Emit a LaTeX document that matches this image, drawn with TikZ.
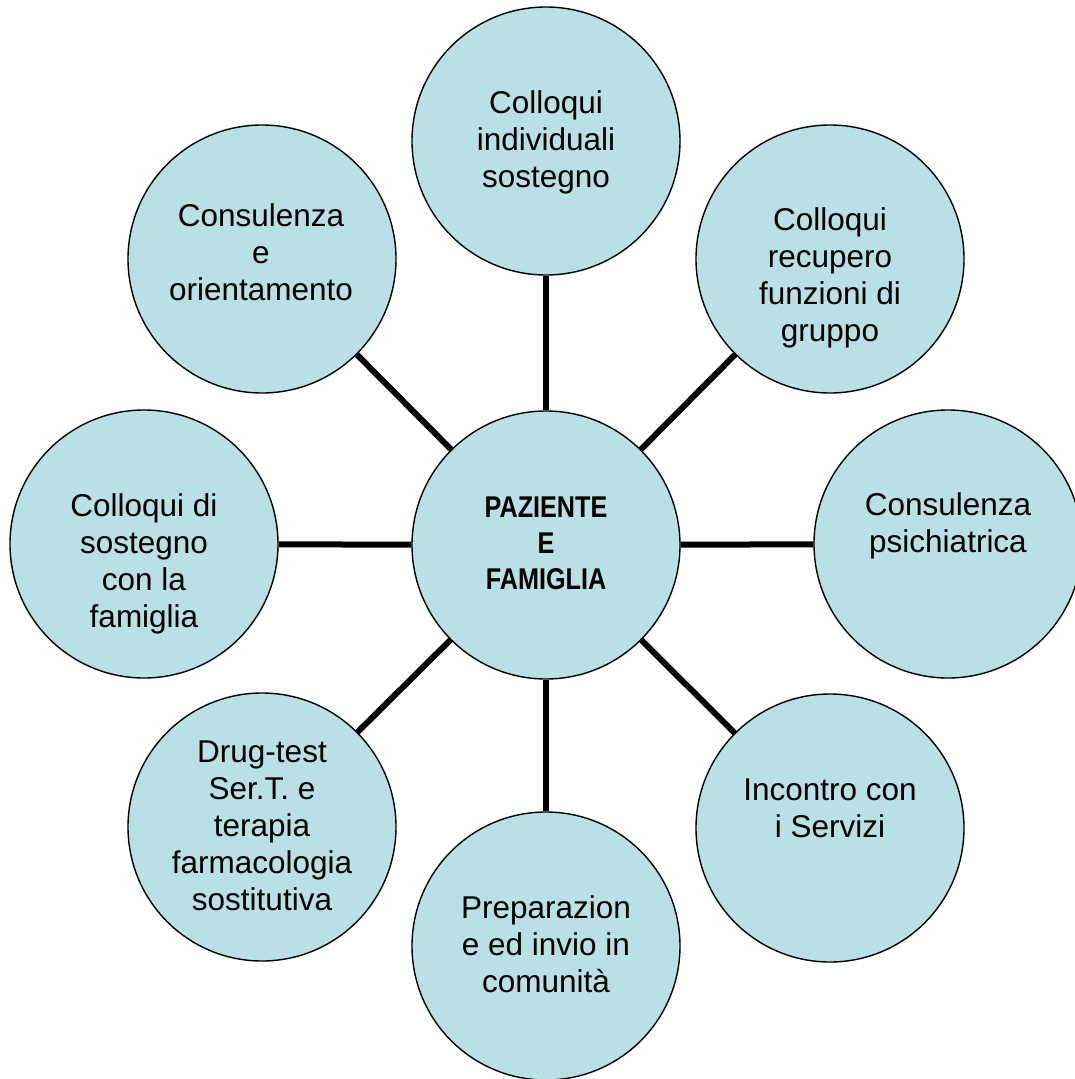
\documentclass[tikz,border=0pt]{standalone}
\usepackage{fontspec}
\setmainfont{Liberation Sans}
\newfontfamily\ctrfont{Liberation Sans}[FakeStretch=0.84]
\definecolor{bubc}{HTML}{B9E0E4}
\begin{document}
\begin{tikzpicture}[x=1pt,y=-1pt,
  bub/.style={circle,draw=black,fill=bubc,line width=1.4pt,minimum size=268pt,inner sep=0pt},
  lbl/.style={anchor=base,align=center,font=\fontsize{31.5}{37}\selectfont,inner sep=0pt},
  ctr/.style={anchor=base,align=center,font=\ctrfont\bfseries\fontsize{30}{36}\selectfont,inner sep=0pt},
  conn/.style={line width=6pt}]
\fill[white] (0,0) rectangle (1075,1079);
\useasboundingbox (0,0) rectangle (1075,1079);
% circles
\node[bub] (c)  at (546,545) {};
\node[bub] (t)  at (546,141) {};
\node[bub] (tl) at (262,259) {};
\node[bub] (tr) at (830,259) {};
\node[bub] (r)  at (948,544) {};
\node[bub] (l)  at (144,544) {};
\node[bub] (bl) at (262,827) {};
\node[bub] (br) at (830,828) {};
\node[bub] (b)  at (546,946) {};
% connectors
\draw[conn] (c) -- (t);
\draw[conn] (c) -- (tl);
\draw[conn] (c) -- (tr);
\draw[conn] (c) -- (r);
\draw[conn] (c) -- (l);
\draw[conn] (c) -- (bl);
\draw[conn] (c) -- (br);
\draw[conn] (c) -- (b);
% texts (anchor = baseline of last line)
\node[ctr] (ct)  at (546,589) {PAZIENTE\\E\\FAMIGLIA};
\node[lbl] (tt)  at (546,187) {Colloqui\\individuali\\sostegno};
\node[lbl] (tlt) at (261,300) {Consulenza\\e\\orientamento};
\node[lbl] (trt) at (830,341) {Colloqui\\recupero\\funzioni di\\gruppo};
\node[lbl] (rt)  at (948,552) {Consulenza\\psichiatrica};
\node[lbl] (lt)  at (144,627) {Colloqui di\\sostegno\\con la\\famiglia};
\node[lbl] (blt) at (262,910) {Drug-test\\Ser.T. e\\terapia\\farmacologia\\sostitutiva};
\node[lbl] (brt) at (830,837) {Incontro con\\i Servizi};
\node[lbl] (bt)  at (546,992) {Preparazion\\e ed invio in\\comunità};
\end{tikzpicture}
\end{document}
